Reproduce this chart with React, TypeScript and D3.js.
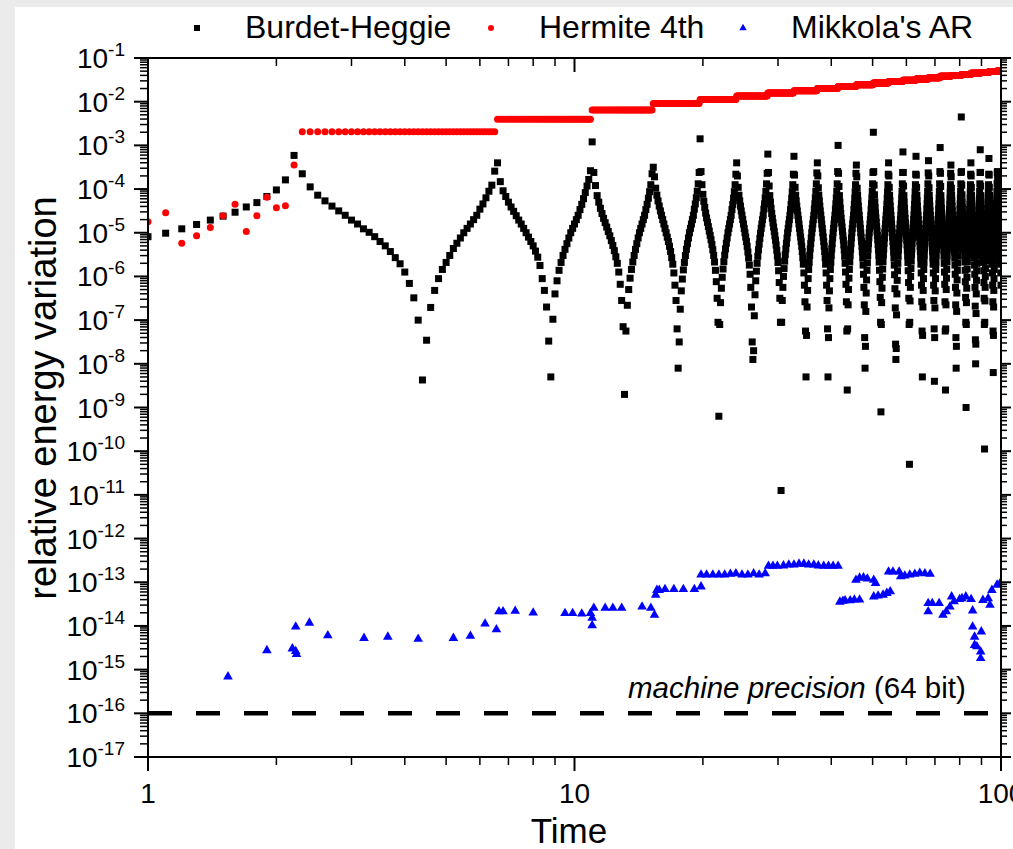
import React from "react";
import * as d3 from "d3";

// ---------------- DATA ----------------
// Time is sampled every 0.1 time units.
const T_STEP = 0.1;

// Burdet-Heggie: segments of consecutive samples [start time, -log10(relative energy variation)]
const BURDET_HEGGIE: [number, number[]][] = [
  [1.0, [5.09,5.01,4.91,4.81,4.71,4.62,4.53,4.41,4.31,4.17,4.02,3.79]],
  [2.2, [3.23,3.65,3.95,4.14,4.27,4.39,4.5,4.6,4.71,4.8,4.91,4.99,5.09,5.2,5.3,5.43,5.57,5.71,5.9,6.16,6.49,7.0,8.37,7.46,6.71,6.32,6.05,5.84,5.68,5.52,5.36,5.24,5.12,5.0,4.9,4.8,4.7,4.6,4.46,4.34,4.2,4.05,3.91,3.59]],
  [6.6, [3.4,3.83,4.04,4.17,4.3,4.41,4.51,4.61,4.71,4.8,4.9,5.0,5.1,5.2,5.3,5.42,5.56,5.75,6.05,6.32,6.7,7.48,8.3,6.98,6.4,6.1,5.86,5.68,5.52,5.38,5.25,5.12,5.0,4.9,4.8,4.7,4.6,4.47,4.35,4.22,4.08,3.93,3.78,3.58]],
  [11.0, [2.92,3.62,3.92,4.15,4.3,4.44,4.56,4.67,4.77,4.87,4.97,5.07,5.18,5.29,5.41,5.55,5.7,5.9,6.18,6.55,7.15,8.7,7.25,6.66,6.3,6.04,5.84,5.67,5.52,5.38,5.25,5.12,5.0,4.9,4.8,4.7,4.6,4.47,4.35,4.21,4.06,3.9,3.65]],
  [15.3, [3.5,3.72,3.98,4.14,4.27,4.39,4.5,4.6,4.7,4.8,4.9,5.0,5.1,5.2,5.31,5.43,5.57,5.72,5.92,6.2,6.55,7.2,8.1,7.5,6.75,6.33,6.06,5.85,5.68,5.52,5.38,5.25,5.12,5.0,4.9,4.8,4.7,4.6,4.46,4.34,4.2,4.05,3.88,3.62]],
  [19.7, [2.85,3.6,3.9,4.12,4.28,4.42,4.55,4.66,4.76,4.86,4.96,5.06,5.16,5.27,5.39,5.52,5.67,5.86,6.12,6.5,7.05,9.2,7.1,6.6,6.27,6.02,5.83,5.66,5.51,5.37,5.24,5.12,5.0,4.9,4.8,4.7,4.6,4.47,4.35,4.21,4.06,3.9,3.66]],
  [24.0, [3.4,3.7,3.96,4.14,4.27,4.39,4.5,4.6,4.7,4.8,4.9,5.0,5.1,5.2,5.31,5.44,5.58,5.74,5.95,6.25,6.7,7.5,7.9,7.7,6.9,6.42,6.1,5.88,5.7,5.54,5.39,5.26,5.13,5.01,4.9,4.8,4.7,4.6,4.46,4.34,4.2,4.05,3.88,3.64]],
  [28.4, [3.2,3.62,3.93,4.15,4.3,4.44,4.56,4.67,4.77,4.87,4.97,5.07,5.17,5.28,5.4,5.53,5.68,5.87,6.14,6.5,7.05,10.9,7.05,6.55,6.25,6.0,5.82,5.65,5.5,5.37,5.24,5.12,5.0,4.9,4.8,4.7,4.6,4.47,4.35,4.21,4.06,3.9,3.66]],
  [32.7, [3.25,3.68,3.96,4.14,4.27,4.39,4.5,4.6,4.7,4.8,4.9,5.0,5.1,5.2,5.31,5.43,5.57,5.72,5.92,6.2,6.58,7.25,8.3,7.35,6.7,6.32,6.05,5.84,5.68,5.52,5.37,5.25,5.12,5.0,4.9,4.8,4.7,4.6,4.46,4.34,4.2,4.05,3.88,3.63]],
  [37.1, [3.4,3.7,3.97,4.14,4.27,4.39,4.5,4.6,4.7,4.8,4.9,5.0,5.1,5.2,5.31,5.43,5.57,5.72,5.92,6.2,6.55,7.2,8.3,7.4,6.72,6.33,6.05,5.84,5.68,5.52,5.37,5.25,5.12,5.0,4.9,4.8,4.7,4.6,4.46,4.34,4.2,4.05,3.88,3.6]],
  [41.5, [3.0,3.64,3.94,4.15,4.3,4.44,4.56,4.67,4.77,4.87,4.97,5.07,5.17,5.28,5.4,5.54,5.7,5.9,6.18,6.58,7.25,8.6,7.2,6.65,6.3,6.04,5.84,5.67,5.52,5.38,5.25,5.12,5.0,4.9,4.8,4.7,4.6,4.47,4.35,4.21,4.06,3.9,3.64]],
  [45.8, [3.45,3.72,3.98,4.14,4.27,4.39,4.5,4.6,4.7,4.8,4.9,5.0,5.1,5.2,5.31,5.44,5.58,5.74,5.95,6.25,6.65,7.4,8.1,7.6,6.8,6.38,6.08,5.86,5.69,5.53,5.38,5.25,5.12,5.0,4.9,4.8,4.7,4.6,4.46,4.34,4.2,4.05,3.88,3.62]],
  [50.2, [2.7,3.6,3.91,4.13,4.29,4.43,4.55,4.66,4.76,4.86,4.96,5.06,5.16,5.27,5.39,5.52,5.67,5.86,6.12,6.48,7.05,9.1,7.1,6.6,6.27,6.02,5.83,5.66,5.51,5.37,5.24,5.12,5.0,4.9,4.8,4.7,4.6,4.47,4.35,4.21,4.06,3.9,3.66]],
  [54.5, [3.4,3.7,3.96,4.14,4.27,4.39,4.5,4.6,4.7,4.8,4.9,5.0,5.1,5.2,5.31,5.44,5.58,5.74,5.96,6.28,6.72,7.55,7.9,7.65,6.88,6.4,6.09,5.87,5.7,5.54,5.39,5.26,5.13,5.01,4.9,4.8,4.7,4.6,4.46,4.34,4.2,4.05,3.88,3.62]],
  [58.9, [3.15,3.62,3.93,4.15,4.3,4.44,4.56,4.67,4.77,4.87,4.97,5.07,5.17,5.28,5.4,5.53,5.68,5.87,6.14,6.5,7.1,10.3,7.05,6.56,6.25,6.0,5.82,5.65,5.5,5.37,5.24,5.12,5.0,4.9,4.8,4.7,4.6,4.47,4.35,4.21,4.06,3.9,3.66]],
  [63.2, [3.25,3.68,3.96,4.14,4.27,4.39,4.5,4.6,4.7,4.8,4.9,5.0,5.1,5.2,5.31,5.43,5.57,5.72,5.92,6.2,6.58,7.25,8.3,7.35,6.7,6.32,6.05,5.84,5.68,5.52,5.37,5.25,5.12,5.0,4.9,4.8,4.7,4.6,4.46,4.34,4.2,4.05,3.88,3.63]],
  [67.6, [3.35,3.7,3.97,4.14,4.27,4.39,4.5,4.6,4.7,4.8,4.9,5.0,5.1,5.2,5.31,5.43,5.57,5.72,5.92,6.2,6.55,7.2,8.4,7.4,6.72,6.33,6.05,5.84,5.68,5.52,5.37,5.25,5.12,5.0,4.9,4.8,4.7,4.6,4.46,4.34,4.2,4.05,3.88,3.6]],
  [72.0, [3.05,3.64,3.94,4.15,4.3,4.44,4.56,4.67,4.77,4.87,4.97,5.07,5.17,5.28,5.4,5.54,5.7,5.9,6.18,6.58,7.25,8.6,7.2,6.65,6.3,6.04,5.84,5.67,5.52,5.38,5.25,5.12,5.0,4.9,4.8,4.7,4.6,4.47,4.35,4.21,4.06,3.9,3.64]],
  [76.3, [3.45,3.72,3.98,4.14,4.27,4.39,4.5,4.6,4.7,4.8,4.9,5.0,5.1,5.2,5.31,5.44,5.58,5.74,5.95,6.25,6.65,7.4,8.1,7.6,6.8,6.38,6.08,5.86,5.69,5.53,5.38,5.25,5.12,5.0,4.9,4.8,4.7,4.6,4.46,4.34,4.2,4.05,3.88,3.62]],
  [80.7, [2.35,3.6,3.91,4.13,4.29,4.43,4.55,4.66,4.76,4.86,4.96,5.06,5.16,5.27,5.39,5.52,5.67,5.86,6.12,6.48,7.05,9.0,7.1,6.6,6.27,6.02,5.83,5.66,5.51,5.37,5.24,5.12,5.0,4.9,4.8,4.7,4.6,4.47,4.35,4.21,4.06,3.9,3.66]],
  [85.0, [3.4,3.7,3.96,4.14,4.27,4.39,4.5,4.6,4.7,4.8,4.9,5.0,5.1,5.2,5.31,5.44,5.58,5.74,5.95,6.25,6.68,7.45,8.0,7.55,6.85,6.4,6.09,5.87,5.7,5.54,5.39,5.26,5.13,5.01,4.9,4.8,4.7,4.6,4.46,4.34,4.2,4.05,3.88,3.62]],
  [89.4, [3.1,3.62,3.93,4.15,4.3,4.44,4.56,4.67,4.77,4.87,4.97,5.07,5.17,5.28,5.4,5.53,5.68,5.87,6.14,6.5,7.1,9.95,7.05,6.56,6.25,6.0,5.82,5.65,5.5,5.37,5.24,5.12,5.0,4.9,4.8,4.7,4.6,4.47,4.35,4.21,4.06,3.9,3.66]],
  [93.7, [3.3,3.68,3.96,4.14,4.27,4.39,4.5,4.6,4.7,4.8,4.9,5.0,5.1,5.2,5.31,5.43,5.57,5.72,5.92,6.2,6.58,7.25,8.2,7.35,6.7,6.32,6.05,5.84,5.68,5.52,5.37,5.25,5.12,5.0,4.9,4.8,4.7,4.6,4.46,4.34,4.2,4.05,3.88,3.63]],
  [98.1, [3.6,3.75,3.98,4.14,4.27,4.39,4.5,4.6,4.7,4.8,4.9,5.0,5.1,5.2,5.31,5.43,5.57,5.72,5.92,6.2]],
];

// Hermite 4th: first samples (t = 1.0 ... 2.2), -log10 values
const HERMITE_EARLY_T0 = 1.0;
const HERMITE_EARLY = [4.75,4.54,5.24,5.07,4.88,4.61,4.35,4.97,4.61,4.19,4.43,4.38,3.45];
// Hermite 4th: step plateaus (start time of each plateau, -log10 level)
const HERMITE_PLATEAU_START = [2.3,6.6,11.0,15.3,19.7,24.0,28.4,32.7,37.1,41.5,45.8,50.2,54.5,58.9,63.2,67.6,72.0,76.3,80.7,85.0,89.4,93.7,98.1];
const HERMITE_PLATEAU_LEVEL = [2.69,2.40,2.19,2.04,1.95,1.87,1.80,1.75,1.70,1.65,1.61,1.57,1.54,1.51,1.48,1.45,1.42,1.40,1.38,1.35,1.33,1.31,1.29];
const HERMITE_END = 100.0;

// Mikkola's AR: [time, log10 value]
const MIKKOLA: [number, number][] = [
  [1.54,-15.16],[1.9,-14.56],[2.18,-14.52],[2.22,-14.58],[2.23,-14.65],[2.22,-14.02],[2.39,-13.93],[2.64,-14.22],
  [3.21,-14.28],[3.65,-14.25],[4.3,-14.30],[5.2,-14.28],[5.7,-14.23],[6.17,-13.95],[6.56,-14.08],[6.65,-13.67],
  [6.8,-13.67],[7.26,-13.66],[8.0,-13.70],[9.5,-13.71],[9.9,-13.71],[10.4,-13.72],[10.9,-13.71],[11.0,-13.82],
  [11.0,-13.99],[11.1,-13.59],[11.8,-13.59],[12.3,-13.59],[12.9,-13.59],[14.4,-13.56],[15.1,-13.59],[15.4,-13.75],
  [15.5,-13.29],[15.6,-13.18],[15.8,-13.18],[16.3,-13.16],[17.1,-13.16],[18.0,-13.16],[19.1,-13.16],[19.8,-13.10],
  [19.8,-12.83],[20.4,-12.83],[21.1,-12.83],[21.8,-12.83],[22.5,-12.83],[23.2,-12.81],[23.9,-12.80],[24.7,-12.83],
  [25.5,-12.83],[26.3,-12.80],[27.1,-12.83],[28.0,-12.80],
  [28.5,-12.63],[29.2,-12.63],[29.9,-12.63],[30.9,-12.62],[31.8,-12.60],[32.7,-12.60],[33.6,-12.58],[34.5,-12.58],
  [35.4,-12.60],[36.4,-12.60],[37.3,-12.62],[38.4,-12.63],[39.4,-12.63],[40.4,-12.63],[41.5,-12.63],
  [41.9,-13.45],[42.6,-13.43],[43.1,-13.42],[44.3,-13.42],[45.3,-13.40],[46.6,-13.40],
  [45.7,-12.95],[46.6,-12.90],[47.6,-12.89],[48.6,-12.92],[50.3,-12.95],[50.8,-13.02],
  [50.3,-13.33],[51.5,-13.31],[52.9,-13.29],[54.0,-13.25],[55.0,-13.21],
  [54.5,-12.76],[55.8,-12.76],[57.7,-12.76],[58.2,-12.87],[59.5,-12.85],[61.1,-12.83],[62.8,-12.81],[64.5,-12.79],
  [66.3,-12.80],[68.2,-12.81],
  [67.5,-13.48],[67.5,-13.67],[69.0,-13.48],[71.6,-13.48],[73.1,-13.75],[74.4,-13.67],[75.9,-13.56],[76.6,-13.33],
  [77.6,-13.44],[80.0,-13.39],[81.0,-13.37],[82.7,-13.33],[85.1,-13.39],[85.8,-13.65],[85.8,-14.02],[86.7,-14.25],
  [86.7,-14.44],[87.8,-14.47],[89.6,-14.59],[89.9,-14.13],[89.6,-14.74],[90.7,-13.41],[93.3,-13.37],[94.2,-13.52],
  [95.2,-13.18],[97.9,-13.06],[99.6,-13.02],
];

const MACHINE_PRECISION = 1e-16;

const X_TICKS = [1, 10, 100];
const X_TICK_LABELS = ["1", "10", "100"];
const Y_TICK_EXPONENTS = [-17,-16,-15,-14,-13,-12,-11,-10,-9,-8,-7,-6,-5,-4,-3,-2,-1];

const LEGEND = ["Burdet-Heggie", "Hermite 4th", "Mikkola's AR"];

// ---------------- CHART ----------------
const FONT = "'Liberation Sans', Arial, Helvetica, sans-serif";

export default function App() {
  const W = 1013, H = 849;
  const L = 148, R = 1001, T = 58, B = 757;
  const x = d3.scaleLog().domain([1, 100]).range([L, R]);
  const y = d3.scaleLog().domain([1e-17, 1e-1]).range([B, T]);

  const bh = BURDET_HEGGIE.flatMap(([t0, vals]) =>
    vals.map((v, j) => ({ t: (Math.round(t0 / T_STEP) + j) * T_STEP, v: Math.pow(10, -v) }))
  );

  const herm: { t: number; v: number }[] = [];
  HERMITE_EARLY.forEach((v, j) =>
    herm.push({ t: (Math.round(HERMITE_EARLY_T0 / T_STEP) + j) * T_STEP, v: Math.pow(10, -v) })
  );
  HERMITE_PLATEAU_START.forEach((s, i) => {
    const a = Math.round(s / T_STEP);
    const b = i + 1 < HERMITE_PLATEAU_START.length
      ? Math.round(HERMITE_PLATEAU_START[i + 1] / T_STEP)
      : Math.round(HERMITE_END / T_STEP) + 1;
    for (let k = a; k < b; k++) herm.push({ t: k * T_STEP, v: Math.pow(10, -HERMITE_PLATEAU_LEVEL[i]) });
  });

  const mik = MIKKOLA.map(([t, lv]) => ({ t, v: Math.pow(10, lv) }));

  const yMajor = Y_TICK_EXPONENTS.map((e) => Math.pow(10, e));
  const yMinor: number[] = [];
  Y_TICK_EXPONENTS.slice(0, -1).forEach((e) => {
    for (let m = 2; m <= 9; m++) yMinor.push(m * Math.pow(10, e));
  });
  const xMinor: number[] = [];
  X_TICKS.slice(0, -1).forEach((d) => {
    for (let m = 2; m <= 9; m++) xMinor.push(m * d);
  });

  const tri = d3.symbol(d3.symbolTriangle, 40)() as string;
  const triSmall = d3.symbol(d3.symbolTriangle, 24)() as string;
  const sq = 7;

  return (
    <svg width={W} height={H} style={{ position: "absolute", left: 0, top: 0, fontFamily: FONT }}>
      <rect x={0} y={0} width={W} height={H} fill="#ebebeb" />
      <rect x={15} y={7} width={W - 15} height={H - 7} fill="#ffffff" />
      <defs>
        <clipPath id="plotclip">
          <rect x={L} y={T} width={R - L} height={B - T} />
        </clipPath>
      </defs>

      <g clipPath="url(#plotclip)">
        {bh.map((d, i) => (
          <rect key={"b" + i} x={x(d.t) - sq / 2} y={y(d.v) - sq / 2} width={sq} height={sq} fill="#000" />
        ))}
        {herm.map((d, i) => (
          <circle key={"h" + i} cx={x(d.t)} cy={y(d.v)} r={3.5} fill="#ff0000" />
        ))}
        {mik.map((d, i) => (
          <path key={"m" + i} d={tri} transform={`translate(${x(d.t)},${y(d.v)})`} fill="#0000ff" />
        ))}
        <line x1={L} x2={R} y1={y(MACHINE_PRECISION)} y2={y(MACHINE_PRECISION)} stroke="#000" strokeWidth={4.5} strokeDasharray="24 24" />
      </g>

      {/* frame */}
      <rect x={L} y={T} width={R - L} height={B - T} fill="none" stroke="#000" strokeWidth={2} />

      {/* y ticks */}
      {yMajor.map((v, i) => (
        <g key={"ym" + i}>
          <line x1={L - 14} x2={L} y1={y(v)} y2={y(v)} stroke="#000" strokeWidth={2} />
          <line x1={R} x2={R + 10} y1={y(v)} y2={y(v)} stroke="#000" strokeWidth={2} />
          <text x={125} y={y(v) + 10} textAnchor="end" fontSize={28} fill="#000">
            10<tspan dy={-12} fontSize={19}>{String(Y_TICK_EXPONENTS[i])}</tspan>
          </text>
        </g>
      ))}
      {yMinor.map((v, i) => (
        <g key={"yn" + i}>
          <line x1={L - 8} x2={L} y1={y(v)} y2={y(v)} stroke="#000" strokeWidth={1.5} />
          <line x1={R} x2={R + 6} y1={y(v)} y2={y(v)} stroke="#000" strokeWidth={1.5} />
        </g>
      ))}

      {/* x ticks */}
      {X_TICKS.map((v, i) => (
        <g key={"xm" + i}>
          <line x1={x(v)} x2={x(v)} y1={B} y2={B + 14} stroke="#000" strokeWidth={2} />
          <line x1={x(v)} x2={x(v)} y1={T} y2={T + 14} stroke="#000" strokeWidth={2} />
          <text x={x(v)} y={803} textAnchor="middle" fontSize={28} fill="#000">{X_TICK_LABELS[i]}</text>
        </g>
      ))}
      {xMinor.map((v, i) => (
        <g key={"xn" + i}>
          <line x1={x(v)} x2={x(v)} y1={B} y2={B + 8} stroke="#000" strokeWidth={1.5} />
          <line x1={x(v)} x2={x(v)} y1={T} y2={T + 8} stroke="#000" strokeWidth={1.5} />
        </g>
      ))}

      {/* axis titles */}
      <text x={569} y={843} textAnchor="middle" fontSize={35} fill="#000">Time</text>
      <text transform="translate(56,398) rotate(-90)" textAnchor="middle" fontSize={38} fill="#000">
        relative energy variation
      </text>

      {/* machine precision label */}
      <text x={628} y={698} fontSize={29.5} fill="#000">
        <tspan fontStyle="italic">machine precision</tspan> (64 bit)
      </text>

      {/* legend */}
      <rect x={197 - 3} y={28 - 3} width={6} height={6} fill="#000" />
      <text x={245} y={38} fontSize={32} fill="#000">{LEGEND[0]}</text>
      <circle cx={491} cy={28} r={3} fill="#ff0000" />
      <text x={539} y={38} fontSize={32} fill="#000">{LEGEND[1]}</text>
      <path d={triSmall} transform="translate(743,28)" fill="#0000ff" />
      <text x={791} y={38} fontSize={32} fill="#000">{LEGEND[2]}</text>
    </svg>
  );
}
